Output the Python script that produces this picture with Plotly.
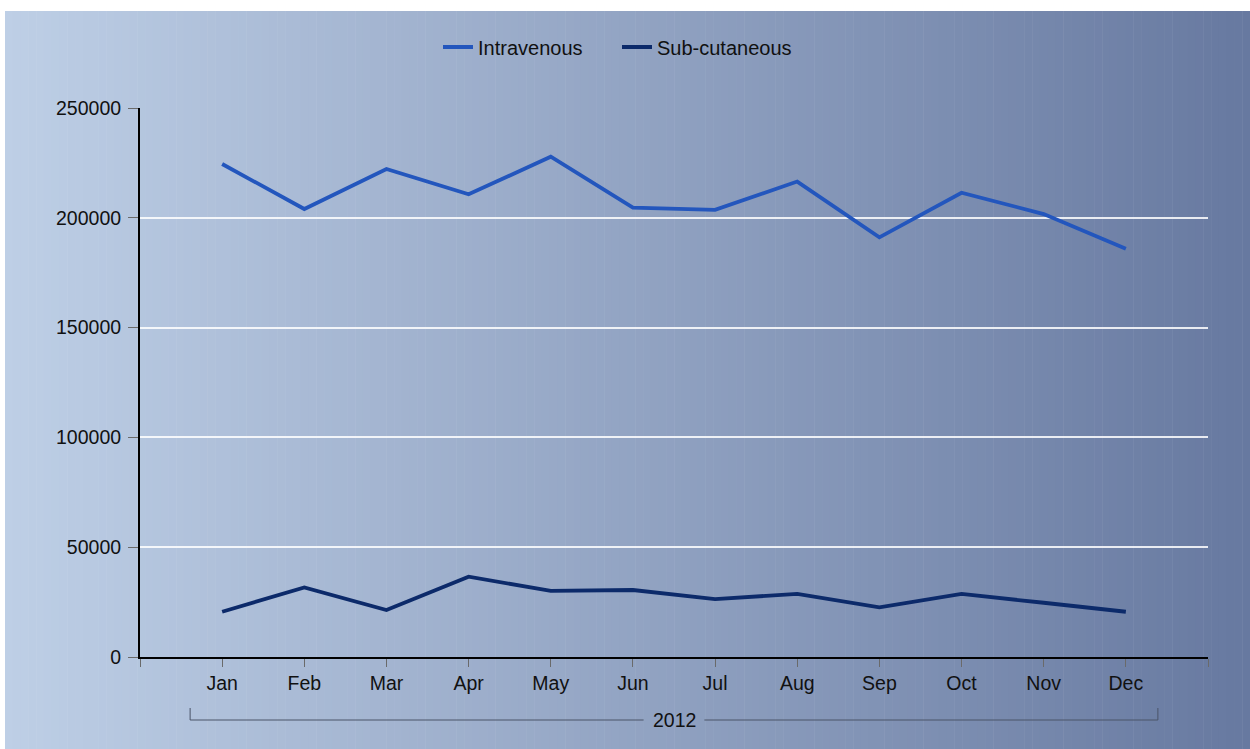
import plotly.graph_objects as go

# Monthly administrations, 2012
months = ["Jan", "Feb", "Mar", "Apr", "May", "Jun",
          "Jul", "Aug", "Sep", "Oct", "Nov", "Dec"]
year_label = "2012"
intravenous = [224500, 204000, 222200, 210700, 227800, 204600,
               203600, 216500, 191100, 211400, 201700, 185900]
subcutaneous = [20600, 31700, 21400, 36600, 30100, 30500,
                26400, 28700, 22600, 28700, 24700, 20600]
y_ticks = [0, 50000, 100000, 150000, 200000, 250000]

W, H = 1250, 749
ML, MR, MT, MB = 140, 42, 108, 92
PW, PH = W - ML - MR, H - MT - MB

def px_to_paper_x(px):
    return (px - ML) / PW

def px_to_paper_y(py):
    return (H - MB - py) / PH

idx = list(range(len(months)))

fig = go.Figure()
fig.add_trace(go.Scatter(x=idx, y=intravenous, name="Intravenous", mode="lines",
                         line=dict(color="#2356bd", width=3.8)))
fig.add_trace(go.Scatter(x=idx, y=subcutaneous, name="Sub-cutaneous", mode="lines",
                         line=dict(color="#0c2a6a", width=3.8)))

# horizontal background gradient, light steel blue to slate
left_rgb = (190, 207, 230)
right_rgb = (103, 121, 160)
x0p, x1p = px_to_paper_x(5), px_to_paper_x(W)
y0p, y1p = px_to_paper_y(H), px_to_paper_y(11)
n = 160
shapes = []
for i in range(n):
    t = (i + 0.5) / n
    c = tuple(round(a + (b - a) * t) for a, b in zip(left_rgb, right_rgb))
    xa = x0p + (x1p - x0p) * i / n
    xb = x0p + (x1p - x0p) * (i + 1) / n + 0.0005
    shapes.append(dict(type="rect", xref="paper", yref="paper", layer="below",
                       x0=xa, x1=xb, y0=y0p, y1=y1p, line=dict(width=0),
                       fillcolor="rgb(%d,%d,%d)" % c))

# year bracket under the month labels
br_col = "#4a5468"
yb_line = px_to_paper_y(720)
yb_top = px_to_paper_y(708)
bx0, bx1 = -0.39, len(months) - 1 + 0.39
mid = (len(months) - 1) / 2
gap = 0.37
for seg in [(bx0, mid - gap), (mid + gap, bx1)]:
    shapes.append(dict(type="line", xref="x", yref="paper", x0=seg[0], x1=seg[1],
                       y0=yb_line, y1=yb_line, line=dict(color=br_col, width=1)))
for xe in (bx0, bx1):
    shapes.append(dict(type="line", xref="x", yref="paper", x0=xe, x1=xe,
                       y0=yb_top, y1=yb_line, line=dict(color=br_col, width=1)))

family = "Liberation Sans, Arial, sans-serif"
font = dict(family=family, size=19.5, color="#111111")
legend_font = dict(family=family, size=20, color="#111111")

fig.update_layout(
    width=W, height=H,
    margin=dict(l=ML, r=MR, t=MT, b=MB),
    paper_bgcolor="white",
    plot_bgcolor="rgba(0,0,0,0)",
    font=font,
    shapes=shapes,
    showlegend=True,
    legend=dict(orientation="h", x=px_to_paper_x(438), xanchor="left",
                y=px_to_paper_y(47), yanchor="middle", font=legend_font,
                bgcolor="rgba(0,0,0,0)", entrywidth=134,
                entrywidthmode="pixels"),
    annotations=[dict(text=year_label, xref="x", yref="paper", x=mid,
                      y=yb_line, showarrow=False, font=font,
                      xanchor="center", yanchor="middle")],
    xaxis=dict(range=[-1, len(months)], tickmode="array",
               tickvals=[-1] + idx + [len(months)],
               ticktext=[""] + months + [""],
               showgrid=False, zeroline=False,
               showline=True, linecolor="black", linewidth=2,
               ticks="outside", ticklen=8, tickcolor="#6a6a6a", tickwidth=1,
               ticklabelstandoff=0, tickfont=font),
    yaxis=dict(range=[0, 250000], tickmode="array", tickvals=y_ticks,
               ticktext=[str(v) for v in y_ticks],
               showgrid=True, gridcolor="rgba(255,255,255,0.85)", gridwidth=2,
               zeroline=False, showline=True, linecolor="black", linewidth=2,
               ticks="outside", ticklen=10, tickcolor="#6a6a6a", tickwidth=1,
               ticklabelstandoff=3, tickfont=font),
)

fig.write_html("out.html")
